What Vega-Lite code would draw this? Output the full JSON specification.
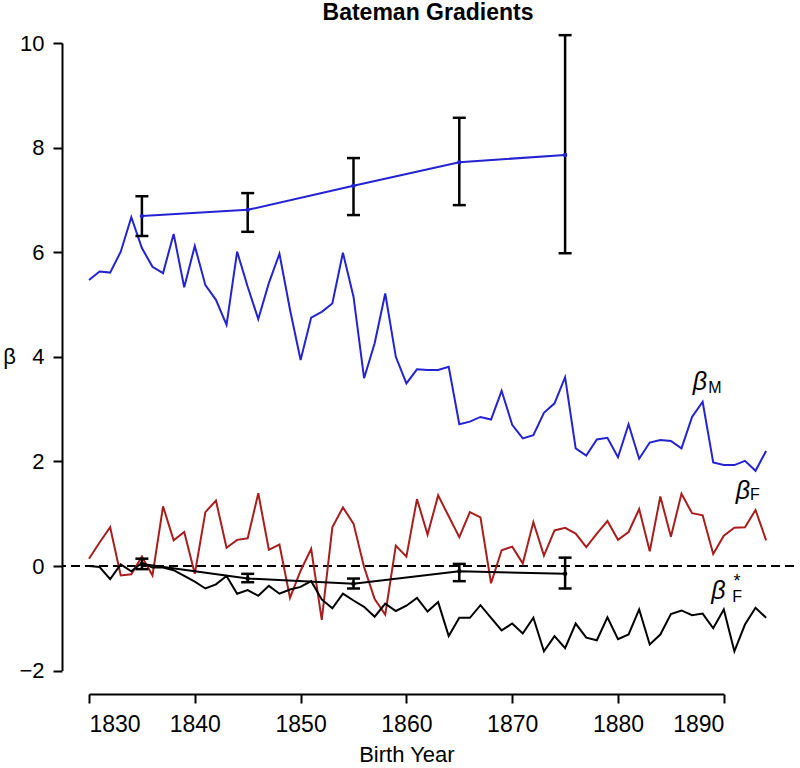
{
  "$schema": "https://vega.github.io/schema/vega-lite/v6.json",
  "width": 732,
  "height": 687,
  "autosize": {"type": "none"},
  "padding": {"left": 62, "top": 7, "right": 6, "bottom": 74},
  "background": "white",
  "config": {"view": {"stroke": null}, "font": "Liberation Sans"},
  "title": {"text": "Bateman Gradients", "fontSize": 23, "fontWeight": "bold", "font": "Liberation Sans", "anchor": "middle", "baseline": "middle", "offset": 0, "dy": 29, "frame": "group", "color": "black"},
  "datasets": {
    "series": [
      {"year":1830,"v":5.47,"s":"M"},{"year":1831,"v":5.63,"s":"M"},{"year":1832,"v":5.61,"s":"M"},{"year":1833,"v":6.01,"s":"M"},{"year":1834,"v":6.67,"s":"M"},{"year":1835,"v":6.08,"s":"M"},{"year":1836,"v":5.72,"s":"M"},{"year":1837,"v":5.6,"s":"M"},{"year":1838,"v":6.35,"s":"M"},{"year":1839,"v":5.33,"s":"M"},{"year":1840,"v":6.12,"s":"M"},{"year":1841,"v":5.37,"s":"M"},{"year":1842,"v":5.09,"s":"M"},{"year":1843,"v":4.61,"s":"M"},{"year":1844,"v":6.01,"s":"M"},{"year":1845,"v":5.34,"s":"M"},{"year":1846,"v":4.72,"s":"M"},{"year":1847,"v":5.41,"s":"M"},{"year":1848,"v":5.97,"s":"M"},{"year":1849,"v":4.9,"s":"M"},{"year":1850,"v":3.94,"s":"M"},{"year":1851,"v":4.75,"s":"M"},{"year":1852,"v":4.86,"s":"M"},{"year":1853,"v":5.02,"s":"M"},{"year":1854,"v":5.99,"s":"M"},{"year":1855,"v":5.15,"s":"M"},{"year":1856,"v":3.59,"s":"M"},{"year":1857,"v":4.26,"s":"M"},{"year":1858,"v":5.21,"s":"M"},{"year":1859,"v":4.0,"s":"M"},{"year":1860,"v":3.49,"s":"M"},{"year":1861,"v":3.76,"s":"M"},{"year":1862,"v":3.75,"s":"M"},{"year":1863,"v":3.75,"s":"M"},{"year":1864,"v":3.81,"s":"M"},{"year":1865,"v":2.71,"s":"M"},{"year":1866,"v":2.76,"s":"M"},{"year":1867,"v":2.85,"s":"M"},{"year":1868,"v":2.8,"s":"M"},{"year":1869,"v":3.35,"s":"M"},{"year":1870,"v":2.7,"s":"M"},{"year":1871,"v":2.44,"s":"M"},{"year":1872,"v":2.5,"s":"M"},{"year":1873,"v":2.93,"s":"M"},{"year":1874,"v":3.11,"s":"M"},{"year":1875,"v":3.61,"s":"M"},{"year":1876,"v":2.25,"s":"M"},{"year":1877,"v":2.11,"s":"M"},{"year":1878,"v":2.42,"s":"M"},{"year":1879,"v":2.45,"s":"M"},{"year":1880,"v":2.08,"s":"M"},{"year":1881,"v":2.71,"s":"M"},{"year":1882,"v":2.05,"s":"M"},{"year":1883,"v":2.36,"s":"M"},{"year":1884,"v":2.41,"s":"M"},{"year":1885,"v":2.39,"s":"M"},{"year":1886,"v":2.25,"s":"M"},{"year":1887,"v":2.85,"s":"M"},{"year":1888,"v":3.14,"s":"M"},{"year":1889,"v":1.98,"s":"M"},{"year":1890,"v":1.93,"s":"M"},{"year":1891,"v":1.93,"s":"M"},{"year":1892,"v":2.01,"s":"M"},{"year":1893,"v":1.82,"s":"M"},{"year":1894,"v":2.2,"s":"M"},
      {"year":1830,"v":0.14,"s":"F"},{"year":1831,"v":0.45,"s":"F"},{"year":1832,"v":0.74,"s":"F"},{"year":1833,"v":-0.18,"s":"F"},{"year":1834,"v":-0.16,"s":"F"},{"year":1835,"v":0.18,"s":"F"},{"year":1836,"v":-0.18,"s":"F"},{"year":1837,"v":1.14,"s":"F"},{"year":1838,"v":0.49,"s":"F"},{"year":1839,"v":0.65,"s":"F"},{"year":1840,"v":-0.15,"s":"F"},{"year":1841,"v":1.03,"s":"F"},{"year":1842,"v":1.25,"s":"F"},{"year":1843,"v":0.35,"s":"F"},{"year":1844,"v":0.5,"s":"F"},{"year":1845,"v":0.53,"s":"F"},{"year":1846,"v":1.39,"s":"F"},{"year":1847,"v":0.31,"s":"F"},{"year":1848,"v":0.41,"s":"F"},{"year":1849,"v":-0.61,"s":"F"},{"year":1850,"v":-0.09,"s":"F"},{"year":1851,"v":0.33,"s":"F"},{"year":1852,"v":-1.03,"s":"F"},{"year":1853,"v":0.74,"s":"F"},{"year":1854,"v":1.12,"s":"F"},{"year":1855,"v":0.81,"s":"F"},{"year":1856,"v":-0.02,"s":"F"},{"year":1857,"v":-0.63,"s":"F"},{"year":1858,"v":-0.93,"s":"F"},{"year":1859,"v":0.39,"s":"F"},{"year":1860,"v":0.18,"s":"F"},{"year":1861,"v":1.28,"s":"F"},{"year":1862,"v":0.6,"s":"F"},{"year":1863,"v":1.35,"s":"F"},{"year":1864,"v":0.95,"s":"F"},{"year":1865,"v":0.55,"s":"F"},{"year":1866,"v":1.03,"s":"F"},{"year":1867,"v":0.93,"s":"F"},{"year":1868,"v":-0.33,"s":"F"},{"year":1869,"v":0.3,"s":"F"},{"year":1870,"v":0.37,"s":"F"},{"year":1871,"v":0.05,"s":"F"},{"year":1872,"v":0.84,"s":"F"},{"year":1873,"v":0.2,"s":"F"},{"year":1874,"v":0.68,"s":"F"},{"year":1875,"v":0.73,"s":"F"},{"year":1876,"v":0.62,"s":"F"},{"year":1877,"v":0.36,"s":"F"},{"year":1878,"v":0.62,"s":"F"},{"year":1879,"v":0.86,"s":"F"},{"year":1880,"v":0.5,"s":"F"},{"year":1881,"v":0.65,"s":"F"},{"year":1882,"v":1.09,"s":"F"},{"year":1883,"v":0.28,"s":"F"},{"year":1884,"v":1.33,"s":"F"},{"year":1885,"v":0.56,"s":"F"},{"year":1886,"v":1.38,"s":"F"},{"year":1887,"v":1.01,"s":"F"},{"year":1888,"v":0.97,"s":"F"},{"year":1889,"v":0.23,"s":"F"},{"year":1890,"v":0.58,"s":"F"},{"year":1891,"v":0.73,"s":"F"},{"year":1892,"v":0.74,"s":"F"},{"year":1893,"v":1.07,"s":"F"},{"year":1894,"v":0.49,"s":"F"},
      {"year":1830,"v":0.0,"s":"Fstar"},{"year":1831,"v":-0.02,"s":"Fstar"},{"year":1832,"v":-0.25,"s":"Fstar"},{"year":1833,"v":0.03,"s":"Fstar"},{"year":1834,"v":-0.1,"s":"Fstar"},{"year":1835,"v":0.06,"s":"Fstar"},{"year":1836,"v":-0.03,"s":"Fstar"},{"year":1837,"v":-0.03,"s":"Fstar"},{"year":1838,"v":-0.08,"s":"Fstar"},{"year":1839,"v":-0.19,"s":"Fstar"},{"year":1840,"v":-0.3,"s":"Fstar"},{"year":1841,"v":-0.43,"s":"Fstar"},{"year":1842,"v":-0.35,"s":"Fstar"},{"year":1843,"v":-0.19,"s":"Fstar"},{"year":1844,"v":-0.53,"s":"Fstar"},{"year":1845,"v":-0.46,"s":"Fstar"},{"year":1846,"v":-0.57,"s":"Fstar"},{"year":1847,"v":-0.38,"s":"Fstar"},{"year":1848,"v":-0.53,"s":"Fstar"},{"year":1849,"v":-0.45,"s":"Fstar"},{"year":1850,"v":-0.4,"s":"Fstar"},{"year":1851,"v":-0.29,"s":"Fstar"},{"year":1852,"v":-0.64,"s":"Fstar"},{"year":1853,"v":-0.81,"s":"Fstar"},{"year":1854,"v":-0.53,"s":"Fstar"},{"year":1855,"v":-0.66,"s":"Fstar"},{"year":1856,"v":-0.78,"s":"Fstar"},{"year":1857,"v":-0.97,"s":"Fstar"},{"year":1858,"v":-0.72,"s":"Fstar"},{"year":1859,"v":-0.86,"s":"Fstar"},{"year":1860,"v":-0.76,"s":"Fstar"},{"year":1861,"v":-0.61,"s":"Fstar"},{"year":1862,"v":-0.87,"s":"Fstar"},{"year":1863,"v":-0.69,"s":"Fstar"},{"year":1864,"v":-1.34,"s":"Fstar"},{"year":1865,"v":-0.99,"s":"Fstar"},{"year":1866,"v":-0.99,"s":"Fstar"},{"year":1867,"v":-0.75,"s":"Fstar"},{"year":1868,"v":-0.99,"s":"Fstar"},{"year":1869,"v":-1.23,"s":"Fstar"},{"year":1870,"v":-1.1,"s":"Fstar"},{"year":1871,"v":-1.29,"s":"Fstar"},{"year":1872,"v":-0.99,"s":"Fstar"},{"year":1873,"v":-1.63,"s":"Fstar"},{"year":1874,"v":-1.34,"s":"Fstar"},{"year":1875,"v":-1.57,"s":"Fstar"},{"year":1876,"v":-1.1,"s":"Fstar"},{"year":1877,"v":-1.37,"s":"Fstar"},{"year":1878,"v":-1.42,"s":"Fstar"},{"year":1879,"v":-0.98,"s":"Fstar"},{"year":1880,"v":-1.4,"s":"Fstar"},{"year":1881,"v":-1.31,"s":"Fstar"},{"year":1882,"v":-0.83,"s":"Fstar"},{"year":1883,"v":-1.5,"s":"Fstar"},{"year":1884,"v":-1.31,"s":"Fstar"},{"year":1885,"v":-0.92,"s":"Fstar"},{"year":1886,"v":-0.85,"s":"Fstar"},{"year":1887,"v":-0.94,"s":"Fstar"},{"year":1888,"v":-0.91,"s":"Fstar"},{"year":1889,"v":-1.19,"s":"Fstar"},{"year":1890,"v":-0.83,"s":"Fstar"},{"year":1891,"v":-1.63,"s":"Fstar"},{"year":1892,"v":-1.12,"s":"Fstar"},{"year":1893,"v":-0.8,"s":"Fstar"},{"year":1894,"v":-0.99,"s":"Fstar"}
    ],
    "means": [
      {"year":1835,"v":6.69,"lo":6.31,"hi":7.07,"s":"M"},
      {"year":1845,"v":6.81,"lo":6.39,"hi":7.13,"s":"M"},
      {"year":1855,"v":7.27,"lo":6.71,"hi":7.8,"s":"M"},
      {"year":1865,"v":7.72,"lo":6.9,"hi":8.57,"s":"M"},
      {"year":1875,"v":7.86,"lo":5.98,"hi":10.15,"s":"M"},
      {"year":1835,"v":0.04,"lo":-0.06,"hi":0.14,"s":"Fstar"},
      {"year":1845,"v":-0.24,"lo":-0.31,"hi":-0.15,"s":"Fstar"},
      {"year":1855,"v":-0.34,"lo":-0.43,"hi":-0.24,"s":"Fstar"},
      {"year":1865,"v":-0.1,"lo":-0.29,"hi":0.04,"s":"Fstar"},
      {"year":1875,"v":-0.15,"lo":-0.43,"hi":0.16,"s":"Fstar"}
    ],
    "betas": [
      {"year":1887.75,"v":3.51,"t":"β"},
      {"year":1891.8,"v":1.44,"t":"β"},
      {"year":1889.5,"v":-0.47,"t":"β"}
    ],
    "subs": [
      {"year":1889.17,"v":3.41,"t":"M"},
      {"year":1892.95,"v":1.35,"t":"F"},
      {"year":1891.25,"v":-0.6,"t":"F"}
    ],
    "stars": [
      {"year":1891.25,"v":-0.3,"t":"*"}
    ],
    "zero": [{"v":0}]
  },
  "layer": [
    {
      "data": {"name": "zero"},
      "mark": {"type": "rule", "strokeDash": [9, 5], "strokeWidth": 2, "color": "black"},
      "encoding": {
        "y": {"field": "v", "type": "quantitative", "scale": {"domain": [-2, 10], "range": [663.6, 36], "nice": false, "zero": false},
              "axis": {"values": [-2, 0, 2, 4, 6, 8, 10], "format": "d", "title": "β", "titleAngle": 0, "titleX": -53, "titleY": 349, "titleAlign": "center", "titleBaseline": "middle", "titleFontSize": 22, "titleFontWeight": "normal", "titleColor": "black", "labelFontSize": 22, "labelColor": "black", "labelPadding": 9, "tickSize": 9, "tickWidth": 2, "tickColor": "black", "domainColor": "black", "domainWidth": 2, "grid": false, "labelFont": "Liberation Sans", "titleFont": "Liberation Sans"}}
      }
    },
    {
      "data": {"name": "series"},
      "mark": {"type": "line", "strokeWidth": 2},
      "encoding": {
        "x": {"field": "year", "type": "quantitative", "scale": {"domain": [1830, 1890], "range": [27, 661.8], "nice": false, "zero": false},
              "axis": {"values": [1830, 1840, 1850, 1860, 1870, 1880, 1890], "format": "d", "title": "Birth Year", "titleFontSize": 22, "titleFontWeight": "normal", "titleColor": "black", "titleY": 60, "titleBaseline": "middle", "labelFontSize": 23, "labelColor": "black", "labelPadding": 10, "tickSize": 9, "tickWidth": 2, "tickColor": "black", "domainColor": "black", "domainWidth": 2, "grid": false, "labelFont": "Liberation Sans", "titleFont": "Liberation Sans"}},
        "y": {"field": "v", "type": "quantitative"},
        "color": {"field": "s", "type": "nominal", "scale": {"domain": ["M", "F", "Fstar"], "range": ["#2323d2", "#a81e1e", "#000000"]}, "legend": null}
      }
    },
    {
      "data": {"name": "means"},
      "mark": {"type": "line", "strokeWidth": 2},
      "encoding": {
        "x": {"field": "year", "type": "quantitative"},
        "y": {"field": "v", "type": "quantitative"},
        "color": {"field": "s", "type": "nominal", "legend": null}
      }
    },
    {
      "data": {"name": "means"},
      "mark": {"type": "rule", "strokeWidth": 2.5, "color": "black"},
      "encoding": {
        "x": {"field": "year", "type": "quantitative"},
        "y": {"field": "lo", "type": "quantitative"},
        "y2": {"field": "hi"}
      }
    },
    {
      "data": {"name": "means"},
      "mark": {"type": "tick", "orient": "horizontal", "size": 13, "thickness": 2.5, "color": "black", "opacity": 1},
      "encoding": {
        "x": {"field": "year", "type": "quantitative"},
        "y": {"field": "lo", "type": "quantitative"}
      }
    },
    {
      "data": {"name": "means"},
      "mark": {"type": "tick", "orient": "horizontal", "size": 13, "thickness": 2.5, "color": "black", "opacity": 1},
      "encoding": {
        "x": {"field": "year", "type": "quantitative"},
        "y": {"field": "hi", "type": "quantitative"}
      }
    },
    {
      "data": {"name": "means"},
      "mark": {"type": "circle", "size": 20, "opacity": 1},
      "encoding": {
        "x": {"field": "year", "type": "quantitative"},
        "y": {"field": "v", "type": "quantitative"},
        "color": {"field": "s", "type": "nominal", "legend": null}
      }
    },
    {
      "data": {"name": "betas"},
      "mark": {"type": "text", "fontSize": 25, "fontStyle": "italic", "font": "Liberation Sans", "align": "center", "baseline": "middle", "color": "black"},
      "encoding": {
        "x": {"field": "year", "type": "quantitative"},
        "y": {"field": "v", "type": "quantitative"},
        "text": {"field": "t"}
      }
    },
    {
      "data": {"name": "subs"},
      "mark": {"type": "text", "fontSize": 16, "font": "Liberation Sans", "align": "center", "baseline": "middle", "color": "black"},
      "encoding": {
        "x": {"field": "year", "type": "quantitative"},
        "y": {"field": "v", "type": "quantitative"},
        "text": {"field": "t"}
      }
    },
    {
      "data": {"name": "stars"},
      "mark": {"type": "text", "fontSize": 18, "font": "Liberation Sans", "align": "center", "baseline": "middle", "color": "black"},
      "encoding": {
        "x": {"field": "year", "type": "quantitative"},
        "y": {"field": "v", "type": "quantitative"},
        "text": {"field": "t"}
      }
    }
  ]
}
